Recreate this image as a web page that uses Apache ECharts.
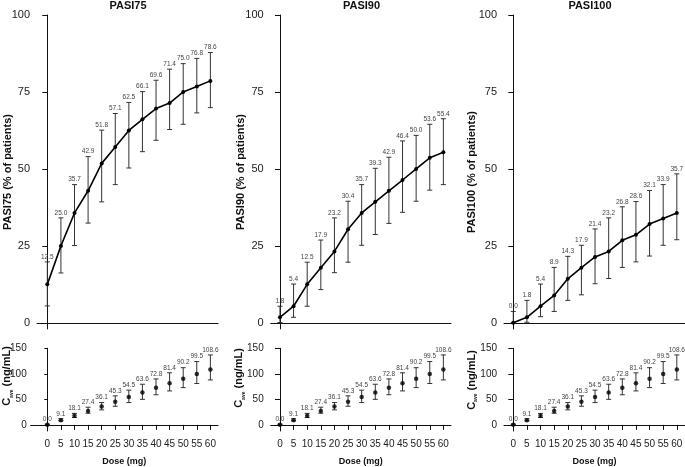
<!DOCTYPE html>
<html>
<head>
<meta charset="utf-8">
<script src="https://cdn.jsdelivr.net/npm/echarts@6/dist/echarts.min.js"></script>
<style>html,body{margin:0;padding:0;background:#fff;}#c{width:685px;height:467px;}</style>
</head>
<body>
<div id="c"></div>
<script>
const doses = [0, 5, 10, 15, 20, 25, 30, 35, 40, 45, 50, 55, 60];

const pasi75   = [12.5, 25.0, 35.7, 42.9, 51.8, 57.1, 62.5, 66.1, 69.6, 71.4, 75.0, 76.8, 78.6];
const pasi75Lo = [5.5, 16.2, 25.1, 32.4, 39.3, 44.9, 50.3, 55.6, 59.3, 62.8, 64.5, 68.2, 69.9];
const pasi75Hi = [19.8, 34.1, 44.9, 54.0, 62.6, 68.0, 71.6, 75.1, 78.8, 82.4, 84.2, 85.9, 87.8];

const pasi90   = [1.8, 5.4, 12.5, 17.9, 23.2, 30.4, 35.7, 39.3, 42.9, 46.4, 50.0, 53.6, 55.4];
const pasi90Lo = [0.1, 1.8, 5.4, 10.8, 16.3, 19.7, 25.2, 28.7, 32.3, 35.9, 39.5, 43.1, 44.9];
const pasi90Hi = [5.4, 12.6, 19.7, 26.9, 34.1, 39.5, 44.9, 50.2, 53.8, 59.1, 60.9, 64.5, 66.3];

const pasi100   = [0.0, 1.8, 5.4, 8.9, 14.3, 17.9, 21.4, 23.2, 26.8, 28.6, 32.1, 33.9, 35.7];
const pasi100Lo = [0.0, 0.2, 2.0, 3.7, 7.3, 9.1, 12.7, 14.4, 18.0, 19.8, 21.7, 25.2, 27.0];
const pasi100Hi = [3.7, 7.3, 12.6, 18.0, 21.6, 25.2, 30.5, 34.1, 37.7, 39.4, 43.0, 44.9, 48.4];

const cave   = [0.0, 9.1, 18.1, 27.4, 36.1, 45.3, 54.5, 63.6, 72.8, 81.4, 90.2, 99.5, 108.6];
const caveLo = [0.0, 7.8, 14.4, 22.8, 29.4, 36.5, 43.7, 50.0, 59.0, 66.5, 73.0, 81.0, 88.0];
const caveHi = [1.5, 12.0, 22.5, 34.6, 43.7, 56.8, 68.0, 79.6, 90.0, 102.0, 112.0, 124.0, 137.0];

const topTicks = [0, 25, 50, 75, 100];
const botTicks = [0, 50, 100, 150];
const doseTicks = [0, 5, 10, 15, 20, 25, 30, 35, 40, 45, 50, 55, 60];

const titles = ['PASI75', 'PASI90', 'PASI100'];
const topNames = ['PASI75 (% of patients)', 'PASI90 (% of patients)', 'PASI100 (% of patients)'];
const FONT = '"Liberation Sans", Arial, Helvetica, sans-serif';

const panels = [
  {m: pasi75, lo: pasi75Lo, hi: pasi75Hi},
  {m: pasi90, lo: pasi90Lo, hi: pasi90Hi},
  {m: pasi100, lo: pasi100Lo, hi: pasi100Hi}
];

const topGrids = [
  {left: 37, top: 15, width: 181, height: 314, xmin: -3.8, xmax: 62.8, gap: 23.5},
  {left: 270.7, top: 15, width: 180.3, height: 314, xmin: -3.4, xmax: 62.8, gap: 24},
  {left: 504, top: 15, width: 181, height: 314, xmin: -3.4, xmax: 63, gap: 26.5}
];
const botGrids = [
  {left: 30.7, top: 348.3, width: 187.3, height: 82.7, xmin: -6.1, xmax: 62.8, tick: 3, margin: 4},
  {left: 270.7, top: 348.3, width: 180.3, height: 82.7, xmin: -3.4, xmax: 62.8, tick: 5, margin: 7},
  {left: 504, top: 348.3, width: 181, height: 82.7, xmin: -3.4, xmax: 63, tick: 5, margin: 7}
];

const axisLine = {lineStyle: {color: '#111', width: 1}};

function errRender(params, api) {
  const x = api.value(0), lo = api.value(1), hi = api.value(2), v = api.value(3);
  const pHi = api.coord([x, hi]);
  const pLo = api.coord([x, lo]);
  const cw = 2.5;
  const st = {stroke: '#333', lineWidth: 1};
  return {
    type: 'group',
    children: [
      {type: 'line', shape: {x1: pHi[0], y1: pHi[1], x2: pLo[0], y2: pLo[1]}, style: st},
      {type: 'line', shape: {x1: pHi[0] - cw, y1: pHi[1], x2: pHi[0] + cw, y2: pHi[1]}, style: st},
      {type: 'line', shape: {x1: pLo[0] - cw, y1: pLo[1], x2: pLo[0] + cw, y2: pLo[1]}, style: st},
      {type: 'text', x: pHi[0], y: pHi[1] - 1.5,
       style: {text: v.toFixed(1), fill: '#444', font: '6.5px ' + FONT, align: 'center', verticalAlign: 'bottom'}}
    ]
  };
}

const grid = [], xAxis = [], yAxis = [], series = [], graphic = [];

topGrids.forEach((g, i) => {
  grid.push({left: g.left, top: g.top, width: g.width, height: g.height, containLabel: false, outerBoundsMode: 'none'});
  xAxis.push({type: 'value', gridIndex: i, min: g.xmin, max: g.xmax,
    axisLine: axisLine, axisTick: {show: false}, axisLabel: {show: false}, splitLine: {show: false}});
  yAxis.push({type: 'value', gridIndex: i, min: -2, max: 100,
    name: topNames[i], nameLocation: 'middle', nameGap: g.gap, nameMoveOverlap: false,
    nameTextStyle: {fontFamily: FONT, fontWeight: 'bold', fontSize: 11, color: '#111'},
    axisLine: {show: true, lineStyle: {color: '#111', width: 1}},
    axisTick: {show: true, length: 5, customValues: topTicks, lineStyle: {color: '#111'}},
    axisLabel: {customValues: topTicks, margin: 7, fontFamily: FONT, fontSize: 11, color: '#222'},
    splitLine: {show: false}});
});
botGrids.forEach((g, j) => {
  const i = j + 3;
  grid.push({left: g.left, top: g.top, width: g.width, height: g.height, containLabel: false, outerBoundsMode: 'none'});
  xAxis.push({type: 'value', gridIndex: i, min: g.xmin, max: g.xmax,
    name: 'Dose (mg)', nameLocation: 'middle', nameGap: 26, nameMoveOverlap: false,
    nameTextStyle: {fontFamily: FONT, fontWeight: 'bold', fontSize: 9, color: '#111'},
    axisLine: axisLine,
    axisTick: {show: true, length: 5, customValues: doseTicks, lineStyle: {color: '#111'}},
    axisLabel: {customValues: doseTicks, margin: 8, fontFamily: FONT, fontSize: 10, color: '#222'},
    splitLine: {show: false}});
  yAxis.push({type: 'value', gridIndex: i, min: -12, max: 150,
    axisLine: {show: true, lineStyle: {color: '#111', width: 1}},
    axisTick: {show: true, length: g.tick, customValues: botTicks, lineStyle: {color: '#111'}},
    axisLabel: {customValues: botTicks, margin: g.margin, fontFamily: FONT, fontSize: 10, color: '#222'},
    splitLine: {show: false}});
});

panels.forEach((p, i) => {
  series.push({type: 'custom', xAxisIndex: i, yAxisIndex: i, renderItem: errRender,
    encode: {x: 0, y: [1, 2]}, silent: true, z: 2,
    data: doses.map((d, k) => [d, p.lo[k], p.hi[k], p.m[k]])});
  series.push({type: 'line', xAxisIndex: i, yAxisIndex: i, z: 3,
    data: doses.map((d, k) => [d, p.m[k]]),
    symbol: 'circle', symbolSize: 4, showSymbol: true,
    itemStyle: {color: '#000'}, lineStyle: {color: '#000', width: 1.6}, animation: false});
});
[0, 1, 2].forEach(j => {
  const i = j + 3;
  series.push({type: 'custom', xAxisIndex: i, yAxisIndex: i, renderItem: errRender,
    encode: {x: 0, y: [1, 2]}, silent: true, z: 2,
    data: doses.map((d, k) => [d, caveLo[k], caveHi[k], cave[k]])});
  series.push({type: 'scatter', xAxisIndex: i, yAxisIndex: i, z: 3,
    data: doses.map((d, k) => [d, cave[k]]),
    symbol: 'circle', symbolSize: 4.5, itemStyle: {color: '#000'}, animation: false});
});

const titleX = [128, 361.5, 590];
titles.forEach((t, i) => {
  graphic.push({type: 'text', x: titleX[i], y: 6,
    style: {text: t, font: 'bold 11px ' + FONT, fill: '#111', align: 'center', verticalAlign: 'middle'}});
});
const caveX = [7, 239, 471.5];
const caveY = [376, 378, 380];
caveX.forEach((x, i) => {
  graphic.push({type: 'text', x: x, y: caveY[i], rotation: Math.PI / 2,
    style: {
      text: '{c|C}{s|ave}{n| (ng/mL)}',
      align: 'center', verticalAlign: 'middle', fill: '#111',
      rich: {
        c: {fontFamily: FONT, fontWeight: 'bold', fontSize: 11, lineHeight: 14, verticalAlign: 'middle', fill: '#111'},
        s: {fontFamily: FONT, fontWeight: 'bold', fontSize: 5, lineHeight: 14, verticalAlign: 'bottom', fill: '#111'},
        n: {fontFamily: FONT, fontWeight: 'bold', fontSize: 11, lineHeight: 14, verticalAlign: 'middle', fill: '#111'}
      }
    }});
});

const chart = echarts.init(document.getElementById('c'), null, {renderer: 'canvas'});
chart.setOption({
  animation: false,
  backgroundColor: '#fff',
  grid, xAxis, yAxis, series, graphic
});
</script>
</body>
</html>
